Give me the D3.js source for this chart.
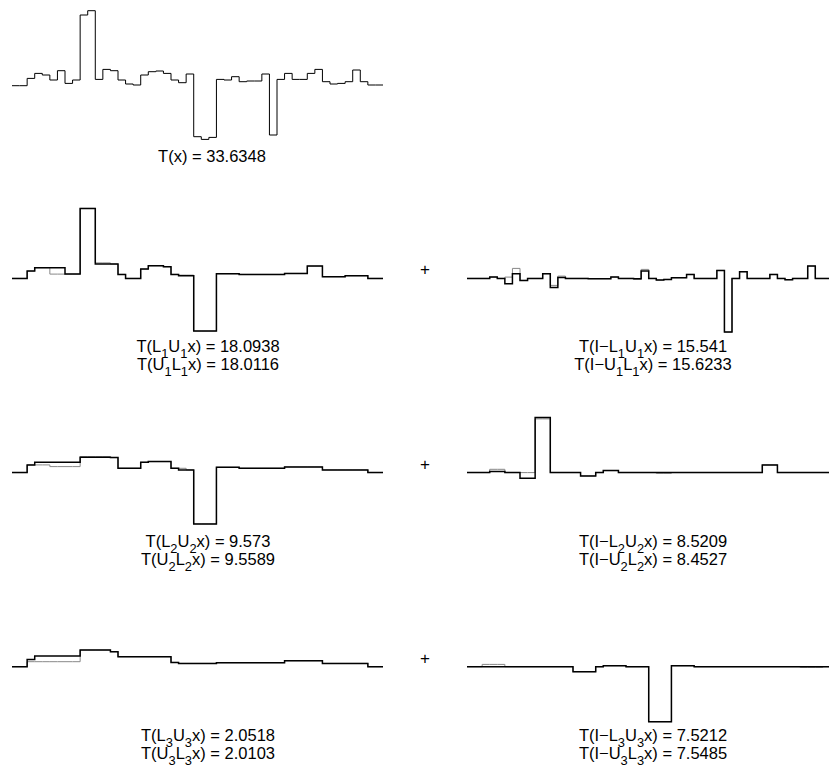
<!DOCTYPE html>
<meta charset='utf-8'>
<title>Lifting decomposition</title>
<style>
body {
  margin: 0;
  background-color: #fff;
}
text {
  font-family: "Liberation Sans", Arial, sans-serif;
  fill: #000;
}
</style>
<svg width="829" height="771"></svg>
<script src="https://d3js.org/d3.v7.min.js"></script>
<script>

// one value per step (49 steps)
var signal = [0,0,0.73,1.23,1.07,0.57,1.5,0.23,0.57,7.07,7.5,0.63,1.63,1.5,0.57,0.17,0.07,1.07,1.4,1.47,1.23,0.57,0.3,1.17,-5.1,-5.37,-5.17,0.63,0.57,0.9,0.4,0.47,0.47,1.17,-4.93,0.63,1.23,0.63,0.63,1.23,1.63,0.4,0.17,0.23,0.4,1.57,0.4,0.07,0.07];

var smoothLU1 = [0,0,0.73,1.07,1.07,1.07,1.07,0.43,0.43,7,7,1.43,1.43,1.43,0.4,0,0,0.93,1.27,1.27,1.17,0.4,0.27,0.27,-5.27,-5.27,-5.27,0.47,0.47,0.47,0.4,0.4,0.4,0.4,0.4,0.4,0.5,0.5,0.5,1.23,1.23,0.17,0.17,0.17,0.27,0.27,0.27,0,0];
var smoothUL1 = [0,0,0.73,1.07,1.07,0.43,0.43,0.43,0.43,7,7,1.55,1.55,1.43,0.4,0,0,0.93,1.27,1.27,1.17,0.4,0.33,0.33,-5.27,-5.27,-5.27,0.47,0.47,0.47,0.4,0.4,0.4,0.4,0.4,0.4,0.5,0.5,0.5,1.23,1.23,0.17,0.17,0.17,0.27,0.27,0.27,0,0];
var detailLU1 = [0,0,0,0.13,0,-0.53,0.47,-0.2,0,0,0.47,-0.9,0.1,0,0,0,-0.03,-0.03,-0.03,0.13,0,0,-0.03,0.73,0,-0.17,-0.1,0.07,0.07,0.4,0,0,0,0.8,-5.37,0,0.67,0,0,0,0.4,0,-0.13,0,0,1.23,0,0,0];
var detailUL1 = [0,0,0,0.13,0,0.13,1.0,-0.2,0,0,0.47,-0.7,0.23,0,0,0,-0.03,-0.03,-0.03,0.13,0,0,-0.1,0.9,0,-0.17,-0.1,0.07,0.07,0.4,0,0,0,0.8,-5.37,0,0.67,0,0,0,0.4,0,-0.13,0,0,1.23,0,0,0];

var smoothLU2 = [0,0,0.77,1.03,1.03,1.03,1.03,1.03,1.03,1.53,1.53,1.53,1.53,1.5,0.43,0.43,0.43,1.03,1.1,1.1,1.1,0.43,0.27,0.27,-5.13,-5.13,-5.13,0.53,0.53,0.53,0.43,0.43,0.43,0.43,0.43,0.43,0.57,0.57,0.57,0.57,0.57,0.27,0.27,0.27,0.27,0.27,0.27,0,0];
var smoothUL2 = [0,0,0.77,0.77,0.77,0.6,0.6,0.6,0.6,1.6,1.6,1.6,1.6,1.5,0.43,0.43,0.43,1.03,1.1,1.1,1.1,0.43,0.43,0.27,-5.13,-5.13,-5.13,0.53,0.53,0.53,0.43,0.43,0.43,0.43,0.43,0.43,0.57,0.57,0.57,0.57,0.57,0.27,0.27,0.27,0.27,0.27,0.27,0,0];
var detailLU2 = [0,0,0,0.1,0.1,0,0,-0.57,-0.57,5.5,5.5,0,0,0,0,-0.33,-0.33,0,0.2,0.2,0,0,0,0,0,0,0,0,0,0,0,0,0,0,0,0,0,0,0,0.77,0.77,0,0,0,0,0,0,0,0];
var detailUL2 = [0,0,0,0.33,0.33,0,0,0,0,5.37,5.37,0,0,0,0,-0.33,-0.33,0,0.2,0.2,0,0,0,0,0,-0.07,-0.07,0,0,0,0,0,0,0,0,0,0,0,0,0.77,0.77,0,0,0,0,0,0,0,0];

var smoothLU3 = [0,0,0.73,1.07,1.07,1.07,1.07,1.07,1.07,1.67,1.67,1.67,1.67,1.5,1,1,1,1,1,1,1,0.43,0.33,0.33,0.33,0.33,0.33,0.4,0.4,0.4,0.4,0.4,0.4,0.4,0.4,0.4,0.6,0.6,0.6,0.6,0.6,0.33,0.33,0.33,0.33,0.33,0.33,0,0];
var smoothUL3 = [0,0,0.5,0.5,0.5,0.5,0.5,0.5,0.5,1.67,1.67,1.67,1.67,1.5,1,1,1,1,1,1,1,0.43,0.33,0.33,0.33,0.33,0.33,0.4,0.4,0.4,0.4,0.4,0.4,0.4,0.4,0.4,0.6,0.6,0.6,0.6,0.6,0.33,0.33,0.33,0.33,0.33,0.33,0,0];
var detailLU3 = [0,0,0,0,0,0,0,0,0,0,0,0,0,0,-0.5,-0.5,-0.5,0,0.1,0.1,0.1,0,0,0,-5.5,-5.5,-5.5,0.1,0.1,0.1,0,0,0,0,0,0,0,0,0,0,0,0,0,0,0,0,0,0,0];
var detailUL3 = [0,0,0.23,0.23,0.23,0,0,0,0,0,0,0,0,0,-0.5,-0.5,-0.5,0,0.1,0.1,0.1,0,0,0,-5.5,-5.5,-5.5,0.1,0.1,0.1,0,0,0,0,0,0,0,0,0,0,0,0,0,0,-0.07,-0.07,-0.07,0,0];

var topLabel = "T(x) = 33.6348";
var smoothLabels = [
  ["T(L_1U_1x) = 18.0938", "T(U_1L_1x) = 18.0116"],
  ["T(L_2U_2x) = 9.573", "T(U_2L_2x) = 9.5589"],
  ["T(L_3U_3x) = 2.0518", "T(U_3L_3x) = 2.0103"]
];
var detailLabels = [
  ["T(I\u2212L_1U_1x) = 15.541", "T(I\u2212U_1L_1x) = 15.6233"],
  ["T(I\u2212L_2U_2x) = 8.5209", "T(I\u2212U_2L_2x) = 8.4527"],
  ["T(I\u2212L_3U_3x) = 7.5212", "T(I\u2212U_3L_3x) = 7.5485"]
];

var svg = d3.select("svg");

var nSteps = signal.length;
var rowBase = [85.7, 278.4, 472.6, 666.7];
var fontSize = 16.5;

var xLeft = d3.scaleLinear().domain([0, nSteps]).range([12, 383]);
var xRight = d3.scaleLinear().domain([0, nSteps]).range([467, 838]);

// same vertical scale for every panel, zero on the row baseline
function yScale(row) {
  return d3.scaleLinear().domain([-5.5, 7.5]).range([rowBase[row] + 55, rowBase[row] - 75]);
}

function drawSteps(values, x, y, color, width) {
  var pts = values.map(function(v, i) { return [i, v]; });
  pts.push([nSteps, values[nSteps - 1]]);
  var line = d3.line()
      .curve(d3.curveStepAfter)
      .x(function(d) { return x(d[0]); })
      .y(function(d) { return y(d[1]); });
  svg.append("path")
      .attr("d", line(pts))
      .attr("fill", "none")
      .attr("stroke", color)
      .attr("stroke-width", width);
}

// label text, "_n" turns into a subscript
function drawLabel(str, cx, baseline, size) {
  var t = svg.append("text")
      .attr("x", cx)
      .attr("y", baseline)
      .attr("text-anchor", "middle")
      .attr("font-size", size);
  var parts = str.split(/(_\d)/);
  var down = false;
  parts.forEach(function(p) {
    if (p === "") return;
    if (p[0] === "_") {
      t.append("tspan").attr("dy", down ? 0 : size * 0.36).attr("font-size", size * 0.78).text(p.slice(1));
      down = true;
    } else {
      t.append("tspan").attr("dy", down ? -size * 0.36 : 0).text(p);
      down = false;
    }
  });
}

// top: the signal itself
drawSteps(signal, xLeft, yScale(0), "#000", 1);
drawLabel(topLabel, 212, 162, fontSize);

var smooth = [[smoothLU1, smoothUL1], [smoothLU2, smoothUL2], [smoothLU3, smoothUL3]];
var detail = [[detailLU1, detailUL1], [detailLU2, detailUL2], [detailLU3, detailUL3]];

smooth.forEach(function(pair, k) {
  var row = k + 1;
  var y = yScale(row);
  drawSteps(pair[1], xLeft, y, "#888", 1);
  drawSteps(pair[0], xLeft, y, "#000", 1.5);
  drawSteps(detail[k][1], xRight, y, "#888", 1);
  drawSteps(detail[k][0], xRight, y, "#000", 1.5);

  svg.append("text")
      .attr("x", 425)
      .attr("y", rowBase[row] - 3)
      .attr("text-anchor", "middle")
      .attr("font-size", 17)
      .text("+");

  drawLabel(smoothLabels[k][0], 208, rowBase[row] + 74, fontSize);
  drawLabel(smoothLabels[k][1], 208, rowBase[row] + 92, fontSize);
  drawLabel(detailLabels[k][0], 653, rowBase[row] + 74, fontSize);
  drawLabel(detailLabels[k][1], 653, rowBase[row] + 92, fontSize);
});
</script>
